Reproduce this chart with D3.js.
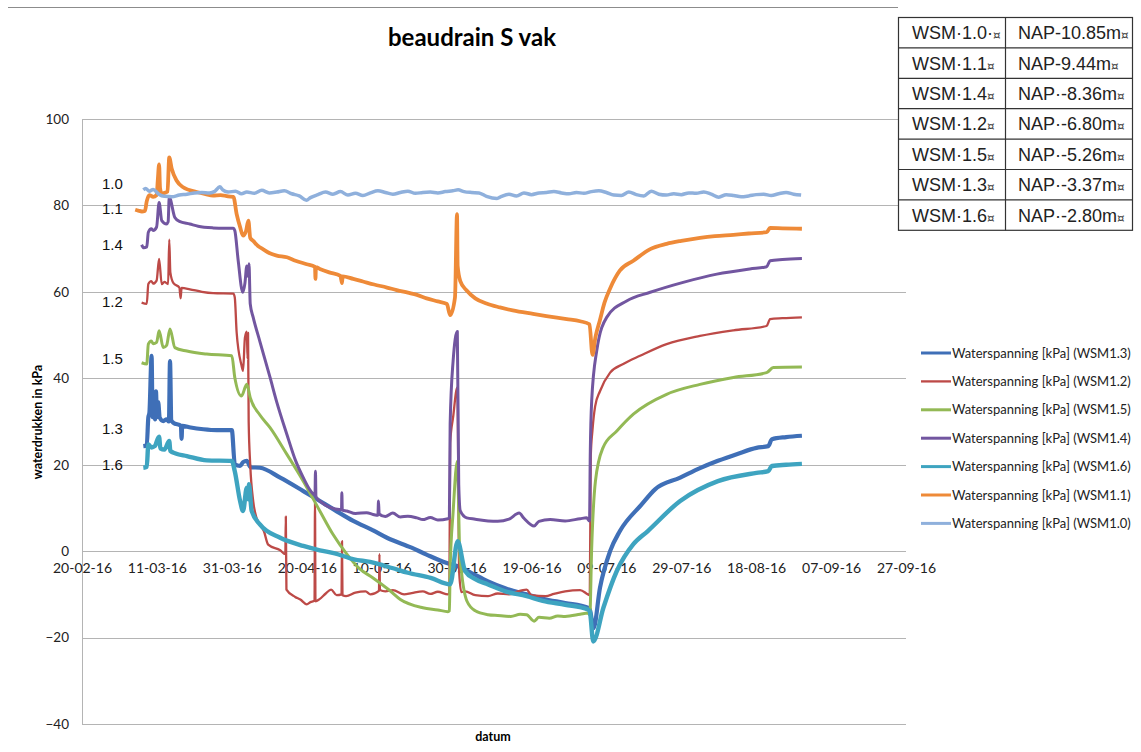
<!DOCTYPE html>
<html>
<head>
<meta charset="utf-8">
<script src="https://cdnjs.cloudflare.com/ajax/libs/d3/7.8.5/d3.min.js"></script>
<style>
body { margin: 0; background: #fff; }
</style>
</head>
<body>
<script>
// tick labels of the date axis and the value axis
xTickLabels = ["20-02-16", "11-03-16", "31-03-16", "20-04-16", "10-05-16", "30-05-16",
        "19-06-16", "09-07-16", "29-07-16", "18-08-16", "07-09-16", "27-09-16"]
yTickValues = [-40, -20, 0, 20, 40, 60, 80, 100]

// sensor table (top right)
tableSensors = ["WSM·1.0·", "WSM·1.1", "WSM·1.4", "WSM·1.2", "WSM·1.5", "WSM·1.3", "WSM·1.6"]
tableLevels = ["NAP-10.85m", "NAP-9.44m", "NAP·-8.36m", "NAP·-6.80m", "NAP·-5.26m", "NAP·-3.37m", "NAP·-2.80m"]

// labels written left of the curves, with the kPa level they sit at
sideLabels = ["1.0", "1.1", "1.4", "1.2", "1.5", "1.3", "1.6"]
sideLabelValues = [85.0, 79.3, 70.9, 57.7, 44.5, 28.3, 20.1]

// series: [date (dd-mm-yy HH), kPa]
wsm13 = [["07-03-16 09", 24.3], ["08-03-16 07", 24.5], ["08-03-16 17", 30.9], ["09-03-16", 32.0], ["09-03-16 14", 45.2],
        ["09-03-16 20", 31.0], ["10-03-16 06", 36.5], ["10-03-16 12", 30.5], ["10-03-16 18", 37.0], ["11-03-16", 31.0],
        ["11-03-16 08", 34.5], ["11-03-16 18", 30.9], ["12-03-16 17", 30.1], ["13-03-16 14", 30.5], ["14-03-16 05", 30.0],
        ["14-03-16 12", 44.0], ["14-03-16 20", 30.3], ["15-03-16 10", 29.7], ["17-03-16 10", 29.0], ["17-03-16 14", 26.0],
        ["17-03-16 18", 29.0], ["20-03-16", 28.6], ["23-03-16 10", 28.2], ["27-03-16", 28.0], ["31-03-16", 28.0],
        ["31-03-16 19", 20.1], ["02-04-16 05", 19.7], ["03-04-16", 20.6], ["04-04-16", 20.9], ["05-04-16", 19.4],
        ["07-04-16 12", 19.3], ["12-04-16 22", 17.0], ["19-04-16 02", 13.9], ["23-04-16 12", 11.6], ["27-04-16 12", 9.5],
        ["02-05-16 10", 7.0], ["07-05-16 17", 4.8], ["11-05-16 10", 3.1], ["18-05-16", 0.8], ["22-05-16", -0.8],
        ["27-05-16 05", -2.7], ["30-05-16 07", -3.5], ["02-06-16", -4.6], ["07-06-16 10", -7.0], ["12-06-16", -8.6],
        ["17-06-16 17", -10.0], ["22-06-16", -11.0], ["28-06-16", -12.0], ["04-07-16 02", -13.1], ["04-07-16 14", -13.5],
        ["05-07-16 14", -17.8], ["07-07-16 07", -8.5], ["10-07-16", 0.0], ["12-07-16 14", 4.6], ["18-07-16 10", 10.8],
        ["22-07-16", 14.3], ["28-07-16 17", 17.0], ["03-08-16", 19.2], ["07-08-16 19", 20.9], ["13-08-16", 22.5],
        ["18-08-16 02", 23.9], ["21-08-16 05", 24.3], ["22-08-16 05", 25.9], ["26-08-16", 26.4], ["30-08-16 05", 26.7]]

wsm12 = [["06-03-16 22", 57.5], ["08-03-16 07", 57.2], ["08-03-16 17", 61.8], ["09-03-16 12", 62.5], ["10-03-16", 61.9],
        ["10-03-16 22", 62.6], ["11-03-16 14", 67.6], ["12-03-16 07", 61.8], ["13-03-16", 62.3], ["14-03-16", 61.8],
        ["14-03-16 07", 72.1], ["14-03-16 14", 64.5], ["15-03-16 10", 62.0], ["17-03-16", 61.0], ["17-03-16 08", 58.5],
        ["17-03-16 14", 60.9], ["19-03-16 19", 60.6], ["23-03-16", 60.0], ["26-03-16", 59.7], ["31-03-16 10", 59.6],
        ["31-03-16 19", 58.7], ["01-04-16 07", 50.6], ["02-04-16 14", 43.0], ["03-04-16", 41.7], ["03-04-16 12", 49.4],
        ["04-04-16", 50.8], ["04-04-16 05", 44.5], ["04-04-16 08", 50.5], ["04-04-16 12", 30.0], ["04-04-16 22", 20.0],
        ["05-04-16 17", 11.6], ["06-04-16 14", 7.7], ["08-04-16 14", 4.6], ["09-04-16 17", 1.5], ["12-04-16 22", 0.2],
        ["14-04-16 07", -0.7], ["14-04-16 10", 8.0], ["14-04-16 14", -8.9], ["16-04-16 22", -10.6], ["18-04-16 07", -11.2],
        ["20-04-16", -12.3], ["21-04-16", -11.8], ["22-04-16 02", -11.5], ["22-04-16 05", 11.2], ["22-04-16 08", -11.6],
        ["23-04-16 10", -11.1], ["25-04-16 02", -9.8], ["26-04-16 12", -8.9], ["28-04-16", -10.2], ["29-04-16 07", -10.0],
        ["29-04-16 10", 2.3], ["29-04-16 13", -10.2], ["30-04-16 12", -10.4], ["03-05-16", -9.6], ["05-05-16 17", -9.3],
        ["07-05-16", -10.0], ["09-05-16 07", -9.2], ["09-05-16 10", -0.7], ["09-05-16 13", -9.0], ["11-05-16", -9.3],
        ["13-05-16", -9.0], ["16-05-16", -10.0], ["18-05-16", -9.7], ["21-05-16", -9.3], ["23-05-16", -9.9],
        ["25-05-16", -9.4], ["27-05-16 17", -10.0], ["28-05-16 02", -9.6], ["28-05-16 07", 25.0], ["29-05-16 02", 31.0],
        ["30-05-16 05", 37.9], ["30-05-16 17", -5.0], ["31-05-16 07", -9.5], ["01-06-16 07", -9.3], ["04-06-16", -10.2],
        ["07-06-16 10", -10.4], ["10-06-16", -9.8], ["13-06-16", -10.0], ["15-06-16", -9.4], ["17-06-16 17", -8.9],
        ["19-06-16", -10.2], ["22-06-16 19", -10.4], ["25-06-16", -9.9], ["28-06-16", -9.3], ["02-07-16", -9.0],
        ["04-07-16 02", -10.0], ["04-07-16 14", -10.2], ["04-07-16 20", 22.0], ["05-07-16 07", 28.0], ["06-07-16", 33.5],
        ["07-07-16 07", 37.0], ["10-07-16", 41.3], ["13-07-16 12", 43.3], ["18-07-16", 45.2], ["25-07-16 02", 47.9],
        ["03-08-16", 49.8], ["11-08-16 22", 51.1], ["20-08-16 19", 52.1], ["21-08-16 17", 53.7], ["25-08-16", 53.9],
        ["30-08-16 05", 54.1]]

wsm15 = [["06-03-16 22", 43.6], ["08-03-16 07", 43.3], ["08-03-16 17", 47.9], ["09-03-16 12", 48.6], ["10-03-16", 48.0],
        ["10-03-16 22", 48.3], ["11-03-16 14", 51.0], ["12-03-16 17", 47.1], ["13-03-16 14", 47.6], ["14-03-16 12", 51.4],
        ["15-03-16 19", 47.1], ["19-03-16", 46.3], ["24-03-16 07", 45.6], ["31-03-16", 45.2], ["31-03-16 19", 40.2],
        ["02-04-16 14", 35.9], ["04-04-16", 38.6], ["04-04-16 22", 35.5], ["07-04-16 12", 31.5], ["10-04-16 05", 28.6],
        ["14-04-16 17", 22.4], ["19-04-16 02", 16.2], ["23-04-16 12", 9.3], ["27-04-16", 3.9], ["30-04-16 17", -0.7],
        ["04-05-16", -4.0], ["07-05-16 17", -6.2], ["12-05-16", -9.0], ["15-05-16", -11.2], ["21-05-16", -13.1],
        ["25-05-16", -13.6], ["27-05-16 17", -14.0], ["28-05-16 02", -13.8], ["28-05-16 07", -4.0], ["29-05-16 02", 9.0],
        ["30-05-16 05", 20.8], ["30-05-16 20", 0.0], ["31-05-16 07", -4.5], ["01-06-16 19", -11.6], ["04-06-16", -13.8],
        ["07-06-16 10", -14.7], ["10-06-16", -14.9], ["13-06-16 12", -15.1], ["16-06-16", -14.6], ["17-06-16 17", -14.7],
        ["19-06-16 17", -16.2], ["21-06-16", -15.3], ["23-06-16 19", -15.5], ["26-06-16", -15.0], ["28-06-16", -15.1],
        ["02-07-16", -14.6], ["04-07-16 02", -14.3], ["04-07-16 14", -14.8], ["05-07-16 02", 0.8], ["06-07-16 02", 16.2],
        ["08-07-16 02", 23.9], ["11-07-16 19", 27.8], ["16-07-16 05", 31.7], ["25-07-16 02", 36.3], ["03-08-16", 38.6],
        ["11-08-16 22", 40.2], ["20-08-16 19", 41.3], ["22-08-16 14", 42.5], ["30-08-16 05", 42.6]]

wsm14 = [["06-03-16 22", 70.9], ["07-03-16 12", 70.2], ["08-03-16 07", 70.4], ["08-03-16 17", 73.8], ["09-03-16 12", 74.6],
        ["10-03-16", 74.2], ["10-03-16 22", 75.0], ["11-03-16 14", 80.7], ["12-03-16 07", 76.5], ["13-03-16 14", 75.7],
        ["14-03-16", 76.2], ["14-03-16 07", 81.9], ["15-03-16 19", 77.2], ["17-03-16", 76.3], ["19-03-16 19", 75.7],
        ["22-03-16", 75.2], ["26-03-16", 74.8], ["29-03-16", 74.7], ["31-03-16 10", 74.7], ["31-03-16 19", 74.2],
        ["01-04-16 17", 67.2], ["02-04-16 22", 59.9], ["03-04-16 12", 62.0], ["04-04-16", 66.0], ["04-04-16 10", 63.5],
        ["04-04-16 14", 66.5], ["04-04-16 22", 57.2], ["05-04-16 17", 54.1], ["07-04-16 12", 48.5], ["10-04-16 05", 40.2],
        ["12-04-16", 34.5], ["14-04-16 17", 27.0], ["17-04-16", 21.0], ["19-04-16 02", 17.0], ["21-04-16", 14.0],
        ["22-04-16 05", 13.0], ["22-04-16 08", 18.5], ["22-04-16 11", 12.6], ["23-04-16 12", 11.6], ["26-04-16", 10.2],
        ["29-04-16 07", 9.6], ["29-04-16 09", 13.5], ["29-04-16 12", 9.5], ["30-04-16 17", 9.3], ["03-05-16", 8.7],
        ["06-05-16", 8.9], ["07-05-16 17", 8.5], ["09-05-16", 8.3], ["09-05-16 04", 11.6], ["09-05-16 08", 8.6],
        ["11-05-16", 8.0], ["13-05-16", 8.8], ["15-05-16", 7.9], ["17-05-16", 8.1], ["19-05-16 10", 7.7],
        ["21-05-16", 7.3], ["23-05-16", 7.8], ["25-05-16", 7.2], ["27-05-16 17", 7.5], ["28-05-16 02", 7.7],
        ["28-05-16 07", 29.4], ["29-05-16 02", 44.0], ["30-05-16 05", 50.8], ["30-05-16 14", 15.5], ["31-05-16", 9.3],
        ["01-06-16 17", 7.7], ["04-06-16", 7.4], ["07-06-16 10", 7.0], ["10-06-16", 6.9], ["13-06-16", 7.4],
        ["15-06-16 17", 8.8], ["17-06-16", 7.6], ["19-06-16 17", 5.8], ["21-06-16", 6.9], ["24-06-16", 7.3],
        ["28-06-16", 7.0], ["02-07-16", 7.5], ["03-07-16 17", 7.7], ["04-07-16 12", 7.0], ["04-07-16 17", 23.0],
        ["05-07-16 02", 34.8], ["06-07-16 10", 46.3], ["09-07-16 02", 54.1], ["14-07-16 10", 57.9], ["20-07-16 17", 59.9],
        ["29-07-16 12", 62.2], ["07-08-16 12", 64.1], ["16-08-16 07", 65.3], ["20-08-16 19", 65.8], ["21-08-16 17", 67.2],
        ["25-08-16", 67.5], ["30-08-16 05", 67.7]]

wsm16 = [["07-03-16 09", 19.3], ["08-03-16 07", 19.5], ["08-03-16 17", 24.7], ["09-03-16 14", 24.0], ["10-03-16 10", 24.3],
        ["11-03-16 14", 26.5], ["11-03-16 22", 23.8], ["13-03-16", 23.5], ["14-03-16 07", 25.5], ["14-03-16 14", 23.2],
        ["16-03-16", 22.6], ["19-03-16", 22.0], ["24-03-16 07", 21.0], ["31-03-16", 20.9], ["31-03-16 19", 18.5],
        ["02-04-16 05", 11.6], ["03-04-16", 9.3], ["04-04-16", 14.7], ["04-04-16 10", 12.0], ["04-04-16 14", 15.5],
        ["05-04-16 07", 9.3], ["07-04-16 12", 6.2], ["12-04-16 22", 3.1], ["19-04-16 02", 1.2], ["23-04-16 12", 0.2],
        ["27-04-16 12", -0.5], ["02-05-16 14", -1.9], ["06-05-16 22", -2.5], ["12-05-16 19", -3.9], ["17-05-16", -5.0],
        ["23-05-16 02", -6.2], ["28-05-16 07", -7.7], ["30-05-16 07", 2.3], ["01-06-16 07", -4.6], ["04-06-16", -6.5],
        ["07-06-16 10", -7.7], ["12-06-16", -9.3], ["17-06-16 17", -10.4], ["22-06-16", -11.5], ["28-06-16", -12.4],
        ["04-07-16 02", -13.5], ["04-07-16 14", -14.0], ["05-07-16 12", -20.9], ["08-07-16 05", -13.1], ["11-07-16 19", -4.6],
        ["16-07-16 05", 1.6], ["20-07-16", 4.6], ["28-07-16 17", 11.6], ["07-08-16 19", 16.2], ["18-08-16 02", 18.1],
        ["21-08-16 05", 18.5], ["22-08-16 05", 19.7], ["26-08-16", 20.0], ["30-08-16 05", 20.2]]

wsm11 = [["05-03-16 05", 79.0], ["06-03-16", 78.8], ["07-03-16", 78.6], ["07-03-16 19", 78.7], ["08-03-16 07", 81.0],
        ["09-03-16", 82.4], ["10-03-16", 82.0], ["10-03-16 22", 82.4], ["11-03-16 06", 86.0], ["11-03-16 14", 89.5],
        ["11-03-16 20", 84.0], ["12-03-16 07", 82.7], ["13-03-16", 82.9], ["13-03-16 20", 83.2], ["14-03-16 07", 91.1],
        ["14-03-16 23", 88.5], ["16-03-16 07", 85.7], ["18-03-16", 84.2], ["21-03-16 14", 83.1], ["24-03-16", 82.6],
        ["26-03-16", 82.3], ["28-03-16", 82.4], ["30-03-16", 82.1], ["31-03-16 10", 82.0], ["01-04-16 07", 78.0],
        ["02-04-16 05", 75.0], ["03-04-16", 73.0], ["03-04-16 20", 74.2], ["04-04-16 10", 76.5], ["04-04-16 22", 72.5],
        ["05-04-16 17", 71.8], ["07-04-16", 70.6], ["08-04-16 07", 69.9], ["10-04-16", 69.0], ["12-04-16", 68.4],
        ["14-04-16 17", 68.0], ["17-04-16", 67.2], ["20-04-16", 66.4], ["22-04-16 05", 65.8], ["22-04-16 08", 63.0],
        ["22-04-16 11", 65.7], ["23-04-16 12", 65.3], ["26-04-16", 64.5], ["29-04-16", 63.7], ["29-04-16 10", 62.0],
        ["29-04-16 14", 63.6], ["02-05-16 10", 63.0], ["05-05-16", 62.4], ["08-05-16", 61.7], ["11-05-16 10", 61.0],
        ["14-05-16", 60.4], ["17-05-16", 59.8], ["19-05-16 10", 59.3], ["22-05-16", 58.5], ["25-05-16", 57.8],
        ["27-05-16 10", 57.2], ["28-05-16 07", 54.6], ["29-05-16 14", 58.7], ["30-05-16 03", 78.0], ["30-05-16 07", 66.0],
        ["31-05-16", 62.5], ["01-06-16 17", 60.3], ["04-06-16", 58.5], ["07-06-16", 57.3], ["10-06-16 14", 56.4],
        ["14-06-16", 55.7], ["19-06-16 10", 54.9], ["23-06-16", 54.4], ["28-06-16 10", 53.7], ["02-07-16", 53.2],
        ["04-07-16 12", 52.5], ["05-07-16 07", 45.4], ["06-07-16 02", 49.5], ["07-07-16 07", 53.5], ["08-07-16 12", 57.5],
        ["10-07-16", 60.8], ["12-07-16 14", 64.9], ["16-07-16 05", 67.2], ["20-07-16 17", 69.9], ["25-07-16 02", 71.1],
        ["29-07-16", 71.8], ["03-08-16", 72.5], ["07-08-16", 72.9], ["11-08-16 22", 73.2], ["16-08-16", 73.5],
        ["20-08-16 19", 73.8], ["21-08-16 17", 74.8], ["25-08-16", 74.7], ["30-08-16 05", 74.6]]

wsm10 = [["07-03-16 09", 83.6], ["08-03-16", 83.9], ["09-03-16", 83.3], ["10-03-16", 83.7], ["11-03-16 12", 82.6],
        ["13-03-16", 82.1], ["15-03-16", 82.0], ["17-03-16", 82.4], ["19-03-16", 82.6], ["21-03-16", 82.9],
        ["23-03-16", 83.0], ["25-03-16", 82.9], ["26-03-16 12", 83.3], ["27-03-16 19", 84.3], ["28-03-16 14", 83.6],
        ["30-03-16", 83.1], ["01-04-16", 83.3], ["02-04-16 14", 82.7], ["04-04-16", 83.1], ["06-04-16", 82.8],
        ["08-04-16", 83.5], ["10-04-16", 82.9], ["12-04-16", 83.1], ["14-04-16", 83.4], ["16-04-16", 82.7],
        ["18-04-16", 82.2], ["19-04-16 22", 81.2], ["21-04-16", 81.8], ["23-04-16", 82.5], ["25-04-16", 83.1],
        ["27-04-16", 82.6], ["29-04-16", 83.2], ["01-05-16", 82.4], ["03-05-16", 82.8], ["05-05-16", 82.3],
        ["07-05-16", 82.9], ["09-05-16", 83.4], ["11-05-16", 83.0], ["13-05-16", 82.6], ["15-05-16", 83.0],
        ["17-05-16", 83.3], ["19-05-16", 82.8], ["21-05-16", 83.0], ["23-05-16", 83.1], ["25-05-16", 82.9],
        ["27-05-16", 83.2], ["29-05-16", 83.4], ["30-05-16 10", 83.6], ["01-06-16", 83.2], ["03-06-16", 83.0],
        ["05-06-16", 82.9], ["07-06-16", 82.1], ["09-06-16 19", 81.6], ["11-06-16", 82.1], ["13-06-16", 82.6],
        ["15-06-16", 82.2], ["17-06-16", 82.9], ["19-06-16", 82.5], ["21-06-16", 82.9], ["23-06-16", 83.0],
        ["25-06-16", 83.2], ["27-06-16", 82.9], ["29-06-16", 82.7], ["01-07-16", 83.0], ["03-07-16", 82.8],
        ["05-07-16", 83.2], ["07-07-16", 83.4], ["09-07-16", 83.0], ["11-07-16", 82.4], ["13-07-16", 82.3],
        ["15-07-16", 83.1], ["17-07-16", 82.5], ["19-07-16", 82.2], ["21-07-16", 83.3], ["23-07-16", 82.6],
        ["25-07-16", 82.4], ["27-07-16", 82.7], ["29-07-16", 82.5], ["31-07-16", 82.9], ["02-08-16", 82.8],
        ["04-08-16", 83.1], ["06-08-16", 82.6], ["08-08-16", 81.9], ["10-08-16", 82.5], ["12-08-16", 82.3],
        ["14-08-16", 82.0], ["16-08-16", 82.2], ["18-08-16", 82.5], ["20-08-16", 82.6], ["22-08-16", 82.3],
        ["24-08-16", 82.7], ["26-08-16", 83.0], ["28-08-16", 82.6], ["30-08-16", 82.4]]

seriesNames = ["WSM1.3", "WSM1.2", "WSM1.5", "WSM1.4", "WSM1.6", "WSM1.1", "WSM1.0"]
seriesData = [wsm13, wsm12, wsm15, wsm14, wsm16, wsm11, wsm10]
seriesColors = ["#3f6fb7", "#bd4a47", "#93b955", "#7256a0", "#3ea4c0", "#ee8a38", "#8fb0dc"]
seriesWidths = [4.2, 2.3, 3, 3, 4.4, 3.8, 3.5]

parseHour = d3.timeParse("%d-%m-%y %H")
parseDay = d3.timeParse("%d-%m-%y")
function parseT(s) {
        return parseHour(s) || parseDay(s)
}

W = 1141
H = 752
sansFont = "Lato, 'Open Sans', sans-serif"
arialFont = "'Liberation Sans', Arial, sans-serif"

svg = d3.select("body").append("svg")
        .attr("width", W)
        .attr("height", H)
        .style("background", "#fff")

xTicks = xTickLabels.map(parseDay)
x = d3.scaleTime().domain([xTicks[0], xTicks[xTicks.length - 1]]).range([82, 906])
y = d3.scaleLinear().domain([-40, 100]).range([724, 119])

// chart frame top edge
svg.append("line").attr("x1", 8).attr("x2", 898).attr("y1", 7.5).attr("y2", 7.5)
        .attr("stroke", "#8c8c8c").attr("stroke-width", 1)

// title
svg.append("text").attr("x", 472).attr("y", 46)
        .attr("text-anchor", "middle")
        .style("font-family", sansFont).style("font-weight", "bold").style("font-size", "24px")
        .text("beaudrain S vak")

// gridlines
svg.append("g").selectAll("line").data(yTickValues).enter().append("line")
        .attr("x1", 82).attr("x2", 906)
        .attr("y1", function(d) { return Math.round(y(d)) + 0.5 })
        .attr("y2", function(d) { return Math.round(y(d)) + 0.5 })
        .attr("stroke", "#b4b4b4").attr("stroke-width", 1)

svg.append("line").attr("x1", 82.5).attr("x2", 82.5).attr("y1", y(100)).attr("y2", y(-40))
        .attr("stroke", "#b4b4b4").attr("stroke-width", 1)

// value axis
yAxis = svg.append("g").attr("transform", "translate(82,0)")
        .call(d3.axisLeft(y).tickValues(yTickValues).tickSize(0).tickPadding(13))
yAxis.select(".domain").remove()
yAxis.selectAll("text").style("font-family", sansFont).style("font-size", "13.5px").attr("fill", "#222")

// date axis sits on the zero line
xAxis = svg.append("g").attr("transform", "translate(0," + y(0) + ")")
        .call(d3.axisBottom(x).tickValues(xTicks).tickSize(0).tickPadding(12)
                .tickFormat(d3.timeFormat("%d-%m-%y")))
xAxis.select(".domain").remove()
xAxis.selectAll("text").style("font-family", sansFont).style("font-size", "14px").attr("fill", "#222")

// axis titles
svg.append("text").attr("transform", "translate(42,422) rotate(-90)")
        .attr("text-anchor", "middle")
        .style("font-family", sansFont).style("font-weight", "bold").style("font-size", "12.5px")
        .text("waterdrukken in kPa")

svg.append("text").attr("x", 493).attr("y", 741)
        .attr("text-anchor", "middle")
        .style("font-family", sansFont).style("font-weight", "bold").style("font-size", "12.5px")
        .text("datum")

// side labels
svg.append("g").selectAll("text").data(sideLabels).enter().append("text")
        .attr("x", 102)
        .attr("y", function(d, i) { return y(sideLabelValues[i]) })
        .attr("dy", "0.36em")
        .style("font-family", arialFont).style("font-size", "15px").attr("fill", "#111")
        .text(function(d) { return d })

// series
line = d3.line()
        .x(function(d) { return x(parseT(d[0])) })
        .y(function(d) { return y(d[1]) })
        .curve(d3.curveMonotoneX)

svg.append("g").attr("class", "series").selectAll("path").data(seriesData).enter().append("path")
        .attr("fill", "none")
        .attr("stroke", function(d, i) { return seriesColors[i] })
        .attr("stroke-width", function(d, i) { return seriesWidths[i] })
        .attr("stroke-linejoin", "round")
        .attr("d", line)

// legend
legend = svg.append("g").attr("class", "legend")
legendRows = legend.selectAll("g").data(seriesNames).enter().append("g")
        .attr("transform", function(d, i) { return "translate(0," + (353 + i * 28.4) + ")" })
legendRows.append("line").attr("x1", 921).attr("x2", 951)
        .attr("stroke", function(d, i) { return seriesColors[i] })
        .attr("stroke-width", function(d, i) { return Math.min(seriesWidths[i], 3) })
legendRows.append("text").attr("x", 952).attr("dy", "0.35em")
        .style("font-family", sansFont).style("font-size", "13px").attr("fill", "#222")
        .text(function(d) { return "Waterspanning [kPa] (" + d + ")" })

// sensor table
tx = 898.5
ty = 17.5
rowH = 30.4
col = 1005.5
tw = 1132.5
table = svg.append("g").attr("class", "table")
table.append("rect").attr("x", tx).attr("y", ty).attr("width", tw - tx).attr("height", rowH * tableSensors.length)
        .attr("fill", "#fff").attr("stroke", "#333").attr("stroke-width", 1.2)
table.append("line").attr("x1", col).attr("x2", col).attr("y1", ty).attr("y2", ty + rowH * tableSensors.length)
        .attr("stroke", "#333").attr("stroke-width", 1.2)
table.selectAll("line.row").data(tableSensors.slice(1)).enter().append("line")
        .attr("class", "row")
        .attr("x1", tx).attr("x2", tw)
        .attr("y1", function(d, i) { return ty + rowH * (i + 1) })
        .attr("y2", function(d, i) { return ty + rowH * (i + 1) })
        .attr("stroke", "#333").attr("stroke-width", 1.2)

function cellText(values, cx) {
        cells = table.selectAll("text.c" + cx).data(values).enter().append("text")
                .attr("class", "c" + cx)
                .attr("x", cx)
                .attr("y", function(d, i) { return ty + rowH * i + rowH / 2 })
                .attr("dy", "0.36em")
                .style("font-family", arialFont).style("font-size", "18px").attr("fill", "#222")
        cells.append("tspan").text(function(d) { return d })
        cells.append("tspan").style("font-family", "'DejaVu Sans', sans-serif").style("font-size", "12px")
                .attr("fill", "#444").text("¤")
}
cellText(tableSensors, 912)
cellText(tableLevels, 1018)
</script>
</body>
</html>
